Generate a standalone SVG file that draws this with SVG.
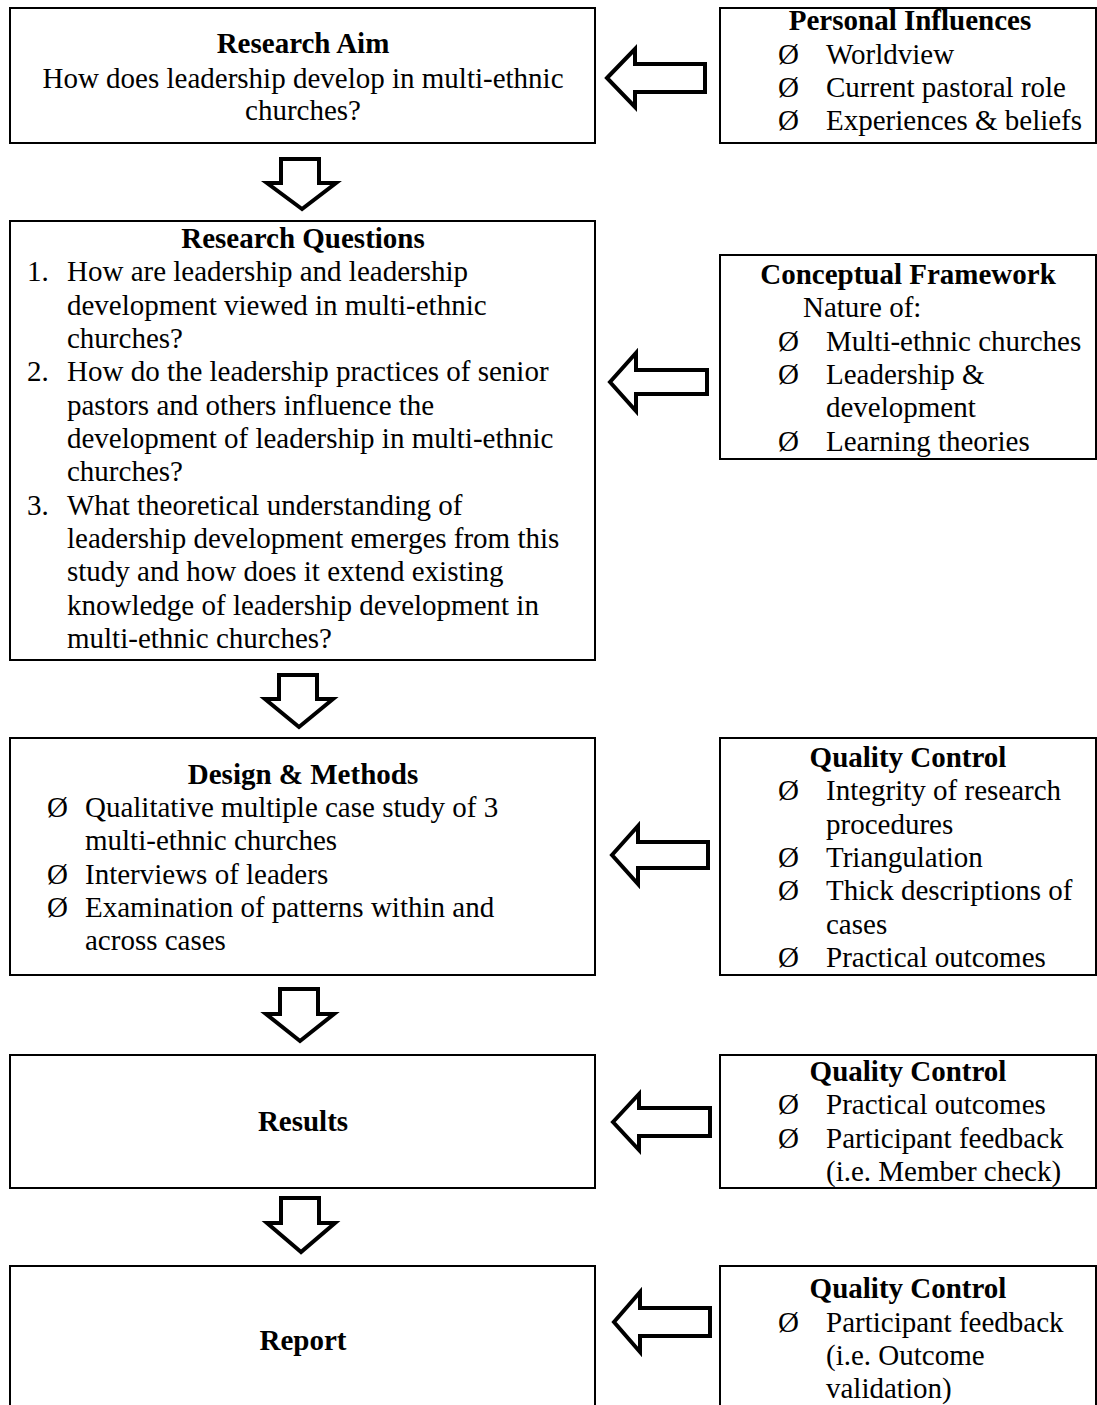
<svg xmlns="http://www.w3.org/2000/svg" width="1097" height="1405" viewBox="0 0 1097 1405">
<style>
.box{fill:#fff;stroke:#000;stroke-width:2}
.t{font-family:"Liberation Serif","Times New Roman",serif;font-size:29px;fill:#000}
.b{font-weight:bold}
.c{text-anchor:middle}
.arr{fill:#fff;stroke:#000;stroke-width:4;stroke-linejoin:miter}
</style>
<rect width="1097" height="1405" fill="#fff"/>

<g id="connectors">
<polygon class="arr" points="302,209 267,183 281,183 281,159 319,159 319,183 336,183"/>
<polygon class="arr" points="299,727 265,699 279,699 279,675 317,675 317,699 333,699"/>
<polygon class="arr" points="300,1041 266,1014 280,1014 280,989 318,989 318,1014 334,1014"/>
<polygon class="arr" points="301,1252 267,1223 281,1223 281,1198 319,1198 319,1223 335,1223"/>
<polygon class="arr" points="607,78 635,49 635,64 705,64 705,92 635,92 635,107"/>
<polygon class="arr" points="610,382 636,353 636,370 707,370 707,394 636,394 636,411"/>
<polygon class="arr" points="612,855 638,826 638,842 708,842 708,868 638,868 638,884"/>
<polygon class="arr" points="613,1122 639,1094 639,1108 710,1108 710,1136 639,1136 639,1150"/>
<polygon class="arr" points="614,1322 640,1292 640,1308 710,1308 710,1336 640,1336 640,1352"/>
</g>

<g id="research-aim">
<rect class="box" x="10" y="8" width="585" height="135"/>
<text class="t b c" x="303" y="53">Research Aim</text>
<text class="t c" x="303" y="88">How does leadership develop in multi-ethnic</text>
<text class="t c" x="303" y="120">churches?</text>
</g>

<g id="personal-influences">
<rect class="box" x="720" y="8" width="376" height="135"/>
<text class="t b c" x="910" y="30">Personal Influences</text>
<text class="t" x="778" y="64">Ø</text><text class="t" x="826" y="64">Worldview</text>
<text class="t" x="778" y="97">Ø</text><text class="t" x="826" y="97">Current pastoral role</text>
<text class="t" x="778" y="130">Ø</text><text class="t" x="826" y="130">Experiences &amp; beliefs</text>
</g>

<g id="research-questions">
<rect class="box" x="10" y="221" width="585" height="439"/>
<text class="t b c" x="303" y="248">Research Questions</text>
<text class="t" x="27" y="281">1.</text><text class="t" x="67" y="281">How are leadership and leadership</text>
<text class="t" x="67" y="315">development viewed in multi-ethnic</text>
<text class="t" x="67" y="348">churches?</text>
<text class="t" x="27" y="381">2.</text><text class="t" x="67" y="381">How do the leadership practices of senior</text>
<text class="t" x="67" y="415">pastors and others influence the</text>
<text class="t" x="67" y="448">development of leadership in multi-ethnic</text>
<text class="t" x="67" y="481">churches?</text>
<text class="t" x="27" y="515">3.</text><text class="t" x="67" y="515">What theoretical understanding of</text>
<text class="t" x="67" y="548">leadership development emerges from this</text>
<text class="t" x="67" y="581">study and how does it extend existing</text>
<text class="t" x="67" y="615">knowledge of leadership development in</text>
<text class="t" x="67" y="648">multi-ethnic churches?</text>
</g>

<g id="conceptual-framework">
<rect class="box" x="720" y="255" width="376" height="204"/>
<text class="t b c" x="908" y="284">Conceptual Framework</text>
<text class="t" x="803" y="317">Nature of:</text>
<text class="t" x="778" y="351">Ø</text><text class="t" x="826" y="351">Multi-ethnic churches</text>
<text class="t" x="778" y="384">Ø</text><text class="t" x="826" y="384">Leadership &amp;</text>
<text class="t" x="826" y="417">development</text>
<text class="t" x="778" y="451">Ø</text><text class="t" x="826" y="451">Learning theories</text>
</g>

<g id="design-methods">
<rect class="box" x="10" y="738" width="585" height="237"/>
<text class="t b c" x="303" y="784">Design &amp; Methods</text>
<text class="t" x="47" y="817">Ø</text><text class="t" x="85" y="817">Qualitative multiple case study of 3</text>
<text class="t" x="85" y="850">multi-ethnic churches</text>
<text class="t" x="47" y="884">Ø</text><text class="t" x="85" y="884">Interviews of leaders</text>
<text class="t" x="47" y="917">Ø</text><text class="t" x="85" y="917">Examination of patterns within and</text>
<text class="t" x="85" y="950">across cases</text>
</g>

<g id="quality-control-1">
<rect class="box" x="720" y="738" width="376" height="237"/>
<text class="t b c" x="908" y="767">Quality Control</text>
<text class="t" x="778" y="800">Ø</text><text class="t" x="826" y="800">Integrity of research</text>
<text class="t" x="826" y="834">procedures</text>
<text class="t" x="778" y="867">Ø</text><text class="t" x="826" y="867">Triangulation</text>
<text class="t" x="778" y="900">Ø</text><text class="t" x="826" y="900">Thick descriptions of</text>
<text class="t" x="826" y="934">cases</text>
<text class="t" x="778" y="967">Ø</text><text class="t" x="826" y="967">Practical outcomes</text>
</g>

<g id="results">
<rect class="box" x="10" y="1055" width="585" height="133"/>
<text class="t b c" x="303" y="1131">Results</text>
</g>

<g id="quality-control-2">
<rect class="box" x="720" y="1055" width="376" height="133"/>
<text class="t b c" x="908" y="1081">Quality Control</text>
<text class="t" x="778" y="1114">Ø</text><text class="t" x="826" y="1114">Practical outcomes</text>
<text class="t" x="778" y="1148">Ø</text><text class="t" x="826" y="1148">Participant feedback</text>
<text class="t" x="826" y="1181">(i.e. Member check)</text>
</g>

<g id="report">
<rect class="box" x="10" y="1266" width="585" height="160"/>
<text class="t b c" x="303" y="1350">Report</text>
</g>

<g id="quality-control-3">
<rect class="box" x="720" y="1266" width="376" height="160"/>
<text class="t b c" x="908" y="1298">Quality Control</text>
<text class="t" x="778" y="1332">Ø</text><text class="t" x="826" y="1332">Participant feedback</text>
<text class="t" x="826" y="1365">(i.e. Outcome</text>
<text class="t" x="826" y="1398">validation)</text>
</g>
</svg>
